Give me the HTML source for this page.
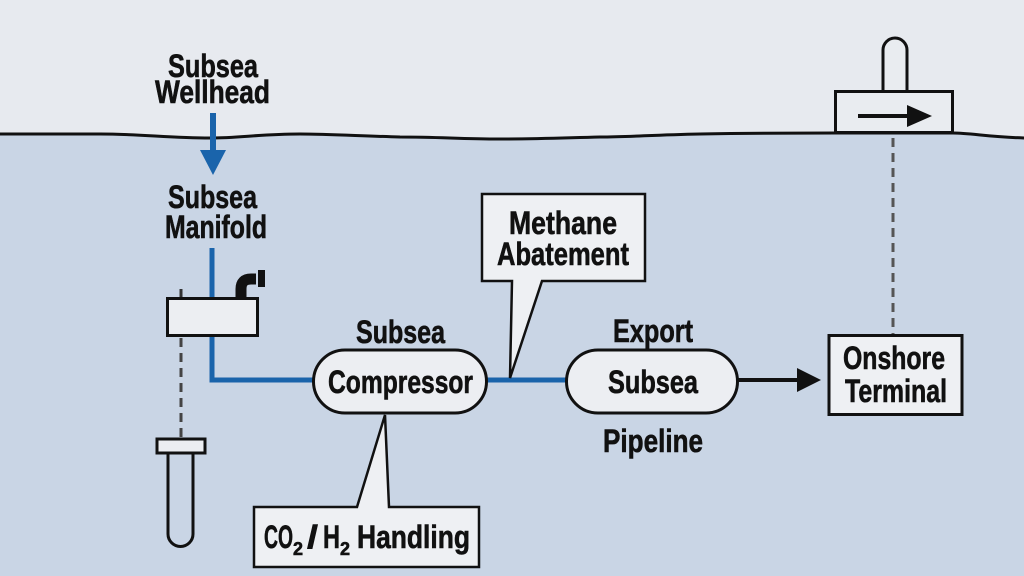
<!DOCTYPE html>
<html><head><meta charset="utf-8"><style>
html,body{margin:0;padding:0;width:1024px;height:576px;overflow:hidden;background:#c9d5e5}
svg{display:block}
text{font-family:"Liberation Sans",Arial,sans-serif;font-weight:bold;fill:#111;font-size:32px;stroke:#111;stroke-width:0.6}
</style></head><body>
<svg width="1024" height="576" viewBox="0 0 1024 576" xmlns="http://www.w3.org/2000/svg">
<rect x="0" y="0" width="1024" height="576" fill="#c9d5e5"/>
<path d="M0 0 H1024 V138 C990 137 970 133 953 133 L835 133 C800 133 760 133 700 134 C650 135 630 137 600 137 C560 138 540 139 500 139 C460 139 440 137 400 137 C360 136 330 134 300 134 C260 134 240 138 210 138 C170 138 140 134 100 134 C60 134 30 134 0 134 Z" fill="#e7eaef"/>
<path d="M0 134 C30 134 60 134 100 134 C140 134 170 138 210 138 C240 138 260 134 300 134 C330 134 360 136 400 137 C440 137 460 139 500 139 C540 139 560 138 600 137 C630 137 650 135 700 134 C760 133 800 133 835 133 L953 133 C970 133 990 137 1024 138" fill="none" stroke="#111" stroke-width="3"/>

<!-- wellhead labels -->
<text x="168" y="77" textLength="90" lengthAdjust="spacingAndGlyphs">Subsea</text>
<text x="155" y="103" textLength="115" lengthAdjust="spacingAndGlyphs">Wellhead</text>
<line x1="213" y1="113" x2="213" y2="153" stroke="#1a64ab" stroke-width="6"/>
<polygon points="200,150 226,150 213,175" fill="#1a64ab"/>
<text x="168" y="208" textLength="89" lengthAdjust="spacingAndGlyphs">Subsea</text>
<text x="165" y="238" textLength="102" lengthAdjust="spacingAndGlyphs">Manifold</text>

<!-- blue pipes -->
<path d="M212 248 V380 H314" fill="none" stroke="#1a64ab" stroke-width="5"/>
<line x1="486" y1="380" x2="567" y2="380" stroke="#1a64ab" stroke-width="5"/>

<!-- dashed lines -->
<line x1="181" y1="289" x2="181" y2="298" stroke="#333" stroke-width="3"/>
<line x1="181" y1="338" x2="181" y2="438" stroke="#444" stroke-width="3" stroke-dasharray="9 6"/>
<line x1="893" y1="138" x2="893" y2="335" stroke="#555" stroke-width="3" stroke-dasharray="9 6"/>

<!-- manifold box + elbow -->
<path d="M241 299 V289 Q241 279 251 279 H256" fill="none" stroke="#111" stroke-width="11"/>
<rect x="258" y="270" width="7" height="17" fill="#111"/>
<rect x="167.5" y="298.5" width="90" height="37" fill="#eceef2" stroke="#111" stroke-width="3"/>

<!-- tube -->
<rect x="157" y="439" width="48" height="14" fill="#eceef2" stroke="#111" stroke-width="3"/>
<path d="M168 453 V534 a12.5 12.5 0 0 0 25 0 V453" fill="none" stroke="#111" stroke-width="3"/>

<!-- compressor -->
<text x="356" y="343" textLength="89" lengthAdjust="spacingAndGlyphs">Subsea</text>
<rect x="313.5" y="350" width="173" height="63" rx="31.5" fill="#eceef2" stroke="#111" stroke-width="3"/>
<text x="328" y="393" textLength="145" lengthAdjust="spacingAndGlyphs">Compressor</text>

<!-- CO2 callout -->
<path d="M254 507 H357 L385 415 L389 507 H479 V567 H254 Z" fill="#eef0f3" stroke="#111" stroke-width="2.5" stroke-linejoin="miter"/>
<text x="264" y="548" textLength="29" lengthAdjust="spacingAndGlyphs">CO</text>
<text x="293" y="555" style="font-size:18px" textLength="10" lengthAdjust="spacingAndGlyphs">2</text>
<text x="307" y="548" textLength="11" lengthAdjust="spacingAndGlyphs">/</text>
<text x="323" y="548" textLength="17" lengthAdjust="spacingAndGlyphs">H</text>
<text x="340" y="555" style="font-size:18px" textLength="10" lengthAdjust="spacingAndGlyphs">2</text>
<text x="357" y="548" textLength="113" lengthAdjust="spacingAndGlyphs">Handling</text>

<!-- methane callout -->
<path d="M482 194 H645 V281 H542 L510 378 L512 281 H482 Z" fill="#eef0f3" stroke="#111" stroke-width="2.5"/>
<text x="509" y="234" textLength="108" lengthAdjust="spacingAndGlyphs">Methane</text>
<text x="497" y="265" textLength="132" lengthAdjust="spacingAndGlyphs">Abatement</text>

<!-- export pipeline -->
<text x="613" y="342" textLength="80" lengthAdjust="spacingAndGlyphs">Export</text>
<rect x="566.5" y="350" width="171" height="63" rx="31.5" fill="#eceef2" stroke="#111" stroke-width="3"/>
<text x="608" y="393" textLength="90" lengthAdjust="spacingAndGlyphs">Subsea</text>
<text x="603" y="452" textLength="100" lengthAdjust="spacingAndGlyphs">Pipeline</text>

<!-- black arrow -->
<line x1="738" y1="380" x2="800" y2="380" stroke="#111" stroke-width="4"/>
<polygon points="797,368 821,380 797,392" fill="#111"/>

<!-- onshore terminal -->
<rect x="829" y="335.5" width="133" height="79" fill="#eef0f3" stroke="#111" stroke-width="3"/>
<text x="843" y="369" textLength="102" lengthAdjust="spacingAndGlyphs">Onshore</text>
<text x="845" y="402" textLength="102" lengthAdjust="spacingAndGlyphs">Terminal</text>

<!-- platform -->
<path d="M883 92 V50 a12 12 0 0 1 24 0 V92" fill="#e9ecf0" stroke="#111" stroke-width="3"/>
<rect x="835.5" y="91.5" width="117" height="41" fill="#e9ecf0" stroke="#111" stroke-width="3"/>
<line x1="858" y1="116" x2="910" y2="116" stroke="#111" stroke-width="4"/>
<polygon points="907,105 932,116 907,127" fill="#111"/>
</svg>
</body></html>
